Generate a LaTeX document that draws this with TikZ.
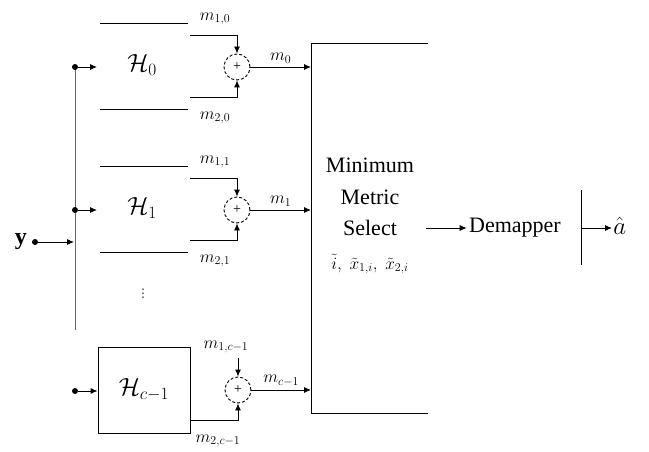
\documentclass[tikz,border=0pt]{standalone}
\usepackage{fontspec}
\setmainfont{Liberation Serif}
\usetikzlibrary{arrows.meta,positioning}
\tikzset{
  sumnode/.style={circle, draw, densely dashed, minimum size=26pt, inner sep=0pt, font=\fontsize{14}{14}\selectfont},
  jdot/.style={circle, fill, inner sep=0pt, minimum size=6pt},
  lbl/.style={font=\fontsize{17}{17}\selectfont},
  big/.style={font=\fontsize{24}{24}\selectfont},
  sig/.style={-{Latex[length=7pt,width=6pt]}},
}
\begin{document}
\begin{tikzpicture}[x=1pt, y=-1pt, line width=0.9pt]
  \useasboundingbox (0,0) rectangle (649,452);
  % received vector and the bus feeding every branch
  \coordinate (bustop) at (75,67);
  \coordinate (busbot) at (75,330);
  \draw[black!60] (bustop) -- (busbot);
  \node[jdot] (yd) at (35,242) {};
  \node[left=1pt of yd, big] (ylab) {$\mathbf{y}$};
  \coordinate (yb) at (74,242);
  \draw[sig] (yd) -- (yb);

  % the two upper branches look alike, only the row changes
  \foreach \i/\yc in {0/67, 1/210} {
    \node[jdot] (j\i) at (75,\yc) {};
    \coordinate (hin\i) at (97,\yc);
    \draw[sig] (j\i) -- (hin\i);
    \node[big] (h\i) at (142,\yc-2) {$\mathcal{H}_{\i}$};
    \draw (100,\yc-44) -- (188,\yc-44);
    \draw (100,\yc+42) -- (188,\yc+42);
    \node[sumnode] (s\i) at (237,\yc) {+};
    \coordinate (up\i) at (190,\yc-32);
    \coordinate (lo\i) at (190,\yc+30);
    \draw[sig] (up\i) -| (s\i.north);
    \draw[sig] (lo\i) -| (s\i.south);
    \node[lbl] (mu\i) at (215,\yc-48) {$m_{1,\i}$};
    \node[lbl] (ml\i) at (215,\yc+51) {$m_{2,\i}$};
    \coordinate (in\i) at (311,\yc);
    \draw[sig] (s\i) -- node[above, lbl] {$m_{\i}$} (in\i);
  }
  \node[black!60, font=\fontsize{16}{16}\selectfont] (vd) at (143,291) {$\vdots$};

  % last branch, drawn as a full box
  \node[jdot] (jc) at (75,391) {};
  \node[draw, minimum width=92pt, minimum height=86pt, big] (hc) at (144,390) {$\mathcal{H}_{c-1}$};
  \draw[sig] (jc) -- (hc.west |- jc);
  \node[sumnode] (sc) at (238,390) {+};
  \coordinate (upc) at (238,358);
  \coordinate (loc) at (190,420);
  \draw[sig] (upc) -- (sc.north);
  \draw[sig] (loc) -| (sc.south);
  \node[lbl] (muc) at (226,347) {$m_{1,c-1}$};
  \node[lbl] (mlc) at (218,441) {$m_{2,c-1}$};
  \coordinate (inc) at (311,390);
  \draw[sig] (sc) -- node[above, lbl] {$m_{c-1}$} (inc);

  % selector, open on its right side
  \coordinate (mtr) at (428,43);
  \coordinate (mtl) at (311,43);
  \coordinate (mbl) at (311,413);
  \coordinate (mbr) at (428,413);
  \draw (mtr) -- (mtl) -- (mbl) -- (mbr);
  \node[align=center, font=\fontsize{22}{31.5}\selectfont] (mms) at (370,197) {Minimum\\Metric\\Select};
  \node[lbl] (sel) at (370,264) {$\tilde{i},\;\tilde{x}_{1,i},\;\tilde{x}_{2,i}$};

  % demapper and decision
  \coordinate (mout) at (426,228);
  \node[font=\fontsize{22}{22}\selectfont, inner sep=2pt] (dm) at (515,228) {Demapper};
  \draw[sig] (mout) -- (dm.west);
  \coordinate (bt) at (581,190);
  \coordinate (bb) at (581,265);
  \draw (bt) -- (bb);
  \coordinate (bo) at (581,228);
  \node[big, anchor=west, inner sep=1pt] (ahat) at (612,226) {$\hat{a}$};
  \draw[sig] (bo) -- (bo -| ahat.west);
\end{tikzpicture}
\end{document}
